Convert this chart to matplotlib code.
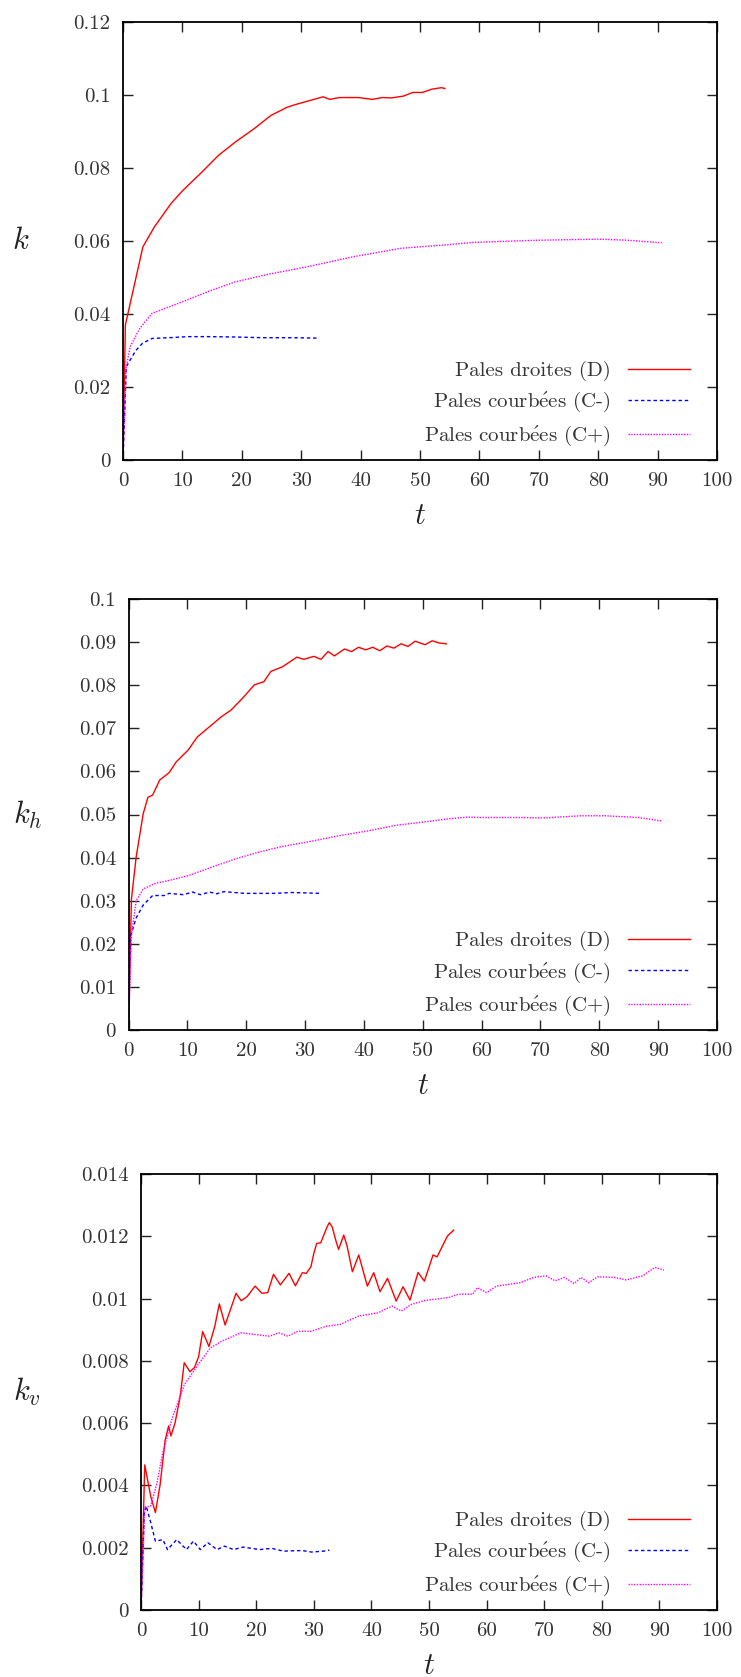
import matplotlib
matplotlib.use('Agg')
import matplotlib.pyplot as plt

plt.rcParams['font.family'] = ['cmr10', 'DejaVu Serif']
plt.rcParams['mathtext.fontset'] = 'cm'
plt.rcParams['axes.unicode_minus'] = False

labels = ['Pales droites (D)',
          'Pales courb$\\mathrm{\\acute{e}}$es (C-)',
          'Pales courb$\\mathrm{\\acute{e}}$es (C+)']

xticks = [0, 10, 20, 30, 40, 50, 60, 70, 80, 90, 100]

# ---- k ----
k_yticks = [0, 0.02, 0.04, 0.06, 0.08, 0.1, 0.12]
k_ylabels = ['0', '0.02', '0.04', '0.06', '0.08', '0.1', '0.12']

t_k_d = [0, 0.4, 3.35, 5.3, 8.1, 10.1, 13.3, 16.1, 18.9, 22.1, 24.9, 27.7, 29.3, 31.7, 33.7,
         34.8, 36.4, 39.6, 42.0, 43.6, 45.2, 47.2, 48.8, 50.4, 52.0, 53.6, 54.2]
k_d = [0, 0.037, 0.0584, 0.0639, 0.0703, 0.0739, 0.0789, 0.0835, 0.0871, 0.0908, 0.0944, 0.0967,
       0.0975, 0.0986, 0.0995, 0.0988, 0.0993, 0.0993, 0.0988, 0.0993, 0.0992, 0.0997, 0.1007,
       0.1007, 0.1016, 0.102, 0.1018]

t_k_cm = [0, 0.56, 2.15, 3.3, 4.9, 7.7, 10.9, 14.1, 18.9, 23.7, 28.5, 32.6]
k_cm = [0, 0.0256, 0.030, 0.032, 0.0333, 0.0335, 0.0338, 0.0338, 0.0337, 0.0335, 0.0335, 0.0334]

t_k_cp = [0, 0.5, 1.2, 2.8, 4.9, 9.3, 14.9, 18.9, 24.5, 30.9, 38.8, 46.8, 54.8, 58.8, 69.5,
          80.3, 85.0, 90.7]
k_cp = [0, 0.025, 0.031, 0.036, 0.0402, 0.0429, 0.0465, 0.0488, 0.0509, 0.0529, 0.0557, 0.058,
        0.059, 0.0596, 0.0602, 0.0605, 0.0602, 0.0595]

# ---- k_h ----
kh_yticks = [0, 0.01, 0.02, 0.03, 0.04, 0.05, 0.06, 0.07, 0.08, 0.09, 0.1]
kh_ylabels = ['0', '0.01', '0.02', '0.03', '0.04', '0.05', '0.06', '0.07', '0.08', '0.09', '0.1']

t_kh_d = [0, 0.5, 1.3, 2.5, 3.3, 4.1, 5.3, 6.9, 8.1, 10.1, 11.7, 13.8, 15.8, 17.4, 19.4, 21.4,
          23.0, 24.2, 26.2, 28.6, 29.8, 31.5, 32.7, 33.9, 35.0, 36.7, 37.9, 39.1, 40.3, 41.5,
          42.7, 43.9, 45.1, 46.3, 47.5, 48.7, 50.4, 51.6, 52.8, 54.0]
kh_d = [0, 0.0304, 0.0401, 0.0502, 0.054, 0.0545, 0.058, 0.0597, 0.0622, 0.0649, 0.068, 0.0704,
        0.0727, 0.0742, 0.077, 0.0801, 0.0808, 0.0832, 0.0843, 0.0865, 0.086, 0.0867, 0.086,
        0.0878, 0.0868, 0.0884, 0.0878, 0.0888, 0.0882, 0.0888, 0.088, 0.0891, 0.0886, 0.0896,
        0.089, 0.0902, 0.0894, 0.0903, 0.0898, 0.0896]

t_kh_cm = [0, 0.3, 1.3, 2.5, 4.1, 6.1, 6.9, 9.3, 10.9, 12.2, 13.8, 15.0, 16.2, 19.8, 24.6, 27.8, 32.7]
kh_cm = [0, 0.0215, 0.026, 0.029, 0.0312, 0.0312, 0.0317, 0.0314, 0.032, 0.0314, 0.032, 0.0316,
         0.0321, 0.0317, 0.0317, 0.0319, 0.0317]

t_kh_cp = [0, 0.5, 1.3, 2.5, 4.5, 6.9, 10.1, 14.2, 18.2, 22.2, 26.2, 31.1, 35.9, 40.7, 45.5,
           50.4, 54.4, 57.6, 60.0, 66.5, 70.5, 76.9, 81.0, 86.6, 90.6]
kh_cp = [0, 0.022, 0.030, 0.0327, 0.034, 0.0347, 0.0358, 0.0378, 0.0397, 0.0413, 0.0426, 0.0438,
         0.0451, 0.0462, 0.0475, 0.0483, 0.049, 0.0494, 0.0493, 0.0493, 0.0492, 0.0497, 0.0497,
         0.0493, 0.0485]

# ---- k_v ----
kv_yticks = [0, 0.002, 0.004, 0.006, 0.008, 0.01, 0.012, 0.014]
kv_ylabels = ['0', '0.002', '0.004', '0.006', '0.008', '0.01', '0.012', '0.014']

t_kv_d = [0, 0.65, 1.7, 2.5, 3.3, 4.2, 4.8, 5.2, 5.9, 6.8,
          7.5, 8.5, 9.3, 10.0, 10.7, 11.8, 12.8, 13.6, 14.6, 15.7,
          16.5, 17.4, 18.4, 19.8, 21.0, 22.0, 23.0, 24.2, 25.7, 26.8,
          28.0, 28.7, 29.5, 30.0, 30.5, 31.2, 32.3, 32.7, 33.2, 33.8,
          34.3, 34.9, 35.2, 35.8, 36.7, 37.8, 39.3, 40.4, 41.5, 42.8,
          44.3, 45.5, 46.7, 48.1, 49.2, 50.7, 51.4, 53.2, 54.3]
kv_d = [0, 0.00466, 0.00364, 0.00313, 0.0040, 0.00546, 0.00591, 0.00559, 0.006, 0.00685,
        0.00794, 0.00765, 0.00779, 0.00813, 0.00894, 0.00846, 0.0091, 0.00983, 0.00915, 0.00974,
        0.01017, 0.00993, 0.01006, 0.0104, 0.01017, 0.01019, 0.01078, 0.01044, 0.01081, 0.01041,
        0.01083, 0.01081, 0.01102, 0.01145, 0.01177, 0.01179, 0.0123, 0.01244, 0.0123, 0.01188,
        0.01158, 0.01188, 0.01204, 0.01167, 0.01086, 0.0114, 0.0104, 0.01083, 0.01022, 0.01065,
        0.00992, 0.01038, 0.00995, 0.01084, 0.01056, 0.0114, 0.01134, 0.01201, 0.0122]

t_kv_cm = [0, 0.57, 0.9, 1.7, 2.5, 3.8, 4.6, 6.2, 7.9, 9.1, 10.3, 11.6, 13.2, 14.5, 16.1, 17.7,
           20.6, 22.7, 24.7, 28.0, 29.6, 31.7, 32.7]
kv_cm = [0, 0.00313, 0.00334, 0.0028, 0.00221, 0.00226, 0.00194, 0.00226, 0.00194, 0.00221,
         0.00194, 0.00216, 0.00194, 0.00205, 0.00194, 0.00202, 0.00194, 0.00198, 0.00189,
         0.00191, 0.00186, 0.00189, 0.00192]

t_kv_cp = [0, 0.66, 1.7, 2.8, 3.8, 5.4, 7.5, 9.9, 12.0, 14.0, 17.3, 20.2, 22.3, 23.9, 25.5, 27.2,
           29.6, 32.1, 34.6, 37.8, 41.1, 43.6, 45.2, 46.9, 49.3, 53.4, 55.1, 57.6, 58.4, 60.0,
           61.7, 65.8, 68.2, 70.3, 71.9, 73.5, 75.2, 76.4, 77.7, 79.3, 82.2, 84.2, 87.1, 89.2, 90.8]
kv_cp = [0, 0.0033, 0.00334, 0.0041, 0.00507, 0.00615, 0.00723, 0.00787, 0.00841, 0.00863,
         0.0089, 0.00884, 0.00879, 0.0089, 0.00879, 0.00895, 0.00895, 0.00911, 0.00917, 0.00944,
         0.00954, 0.00976, 0.0096, 0.00981, 0.00994, 0.01003, 0.01014, 0.01014, 0.01035, 0.01019,
         0.0104, 0.01051, 0.01068, 0.01073, 0.01057, 0.01068, 0.01048, 0.01068, 0.01051, 0.0107,
         0.01068, 0.0106, 0.01073, 0.011, 0.01092]

W, H = 741, 1677
fig = plt.figure(figsize=(W / 100, H / 100), dpi=100)


def panel(left, top, bottom, yticks, ylabels, ylabel, ylab_x, series):
    ax = fig.add_axes([left / W, 1 - bottom / H, (717 - left) / W, (bottom - top) / H])
    (td, yd), (tm, ym), (tp, yp) = series
    ax.plot(td, yd, color='#ff0000', lw=1.0, label=labels[0], solid_joinstyle='round')
    ax.plot(tm, ym, color='#0000ff', lw=1.0, ls=(0, (2.5, 2)), label=labels[1])
    ax.plot(tp, yp, color='#ff00ff', lw=1.0, ls=(0, (1, 1)), label=labels[2])
    ax.set_xlim(0, 100)
    ax.set_ylim(yticks[0], yticks[-1])
    ax.set_xticks(xticks)
    ax.set_xticklabels([str(v) for v in xticks])
    ax.set_yticks(yticks)
    ax.set_yticklabels(ylabels)
    ax.tick_params(direction='in', length=7, width=1, top=True, right=True,
                   labelsize=15, pad=9, colors='#222222', labelcolor='#333333')
    for s in ax.spines.values():
        s.set_linewidth(1.3)
    ax.legend(loc='lower right', bbox_to_anchor=(690 / W, 1 - (bottom - 12) / H),
              bbox_transform=fig.transFigure, frameon=False, markerfirst=False,
              fontsize=15, handlelength=3.0, handletextpad=0.8, labelspacing=0.45,
              borderpad=0, borderaxespad=0, labelcolor='#333333')
    fig.text(ylab_x / W, 1 - (top + bottom) / 2 / H, ylabel, ha='center', va='center',
             fontsize=22, color='#222222')
    fig.text((left + 717) / 2 / W, 1 - (bottom + 56) / H, '$t$', ha='center', va='center',
             fontsize=22, color='#222222')
    return ax


panel(123, 22, 460, k_yticks, k_ylabels, '$k$', 21,
      [(t_k_d, k_d), (t_k_cm, k_cm), (t_k_cp, k_cp)])
panel(128.5, 599, 1030, kh_yticks, kh_ylabels, '$k_h$', 28,
      [(t_kh_d, kh_d), (t_kh_cm, kh_cm), (t_kh_cp, kh_cp)])
panel(141, 1174, 1610, kv_yticks, kv_ylabels, '$k_v$', 27,
      [(t_kv_d, kv_d), (t_kv_cm, kv_cm), (t_kv_cp, kv_cp)])

fig.savefig('out.png', dpi=100, facecolor='white')
